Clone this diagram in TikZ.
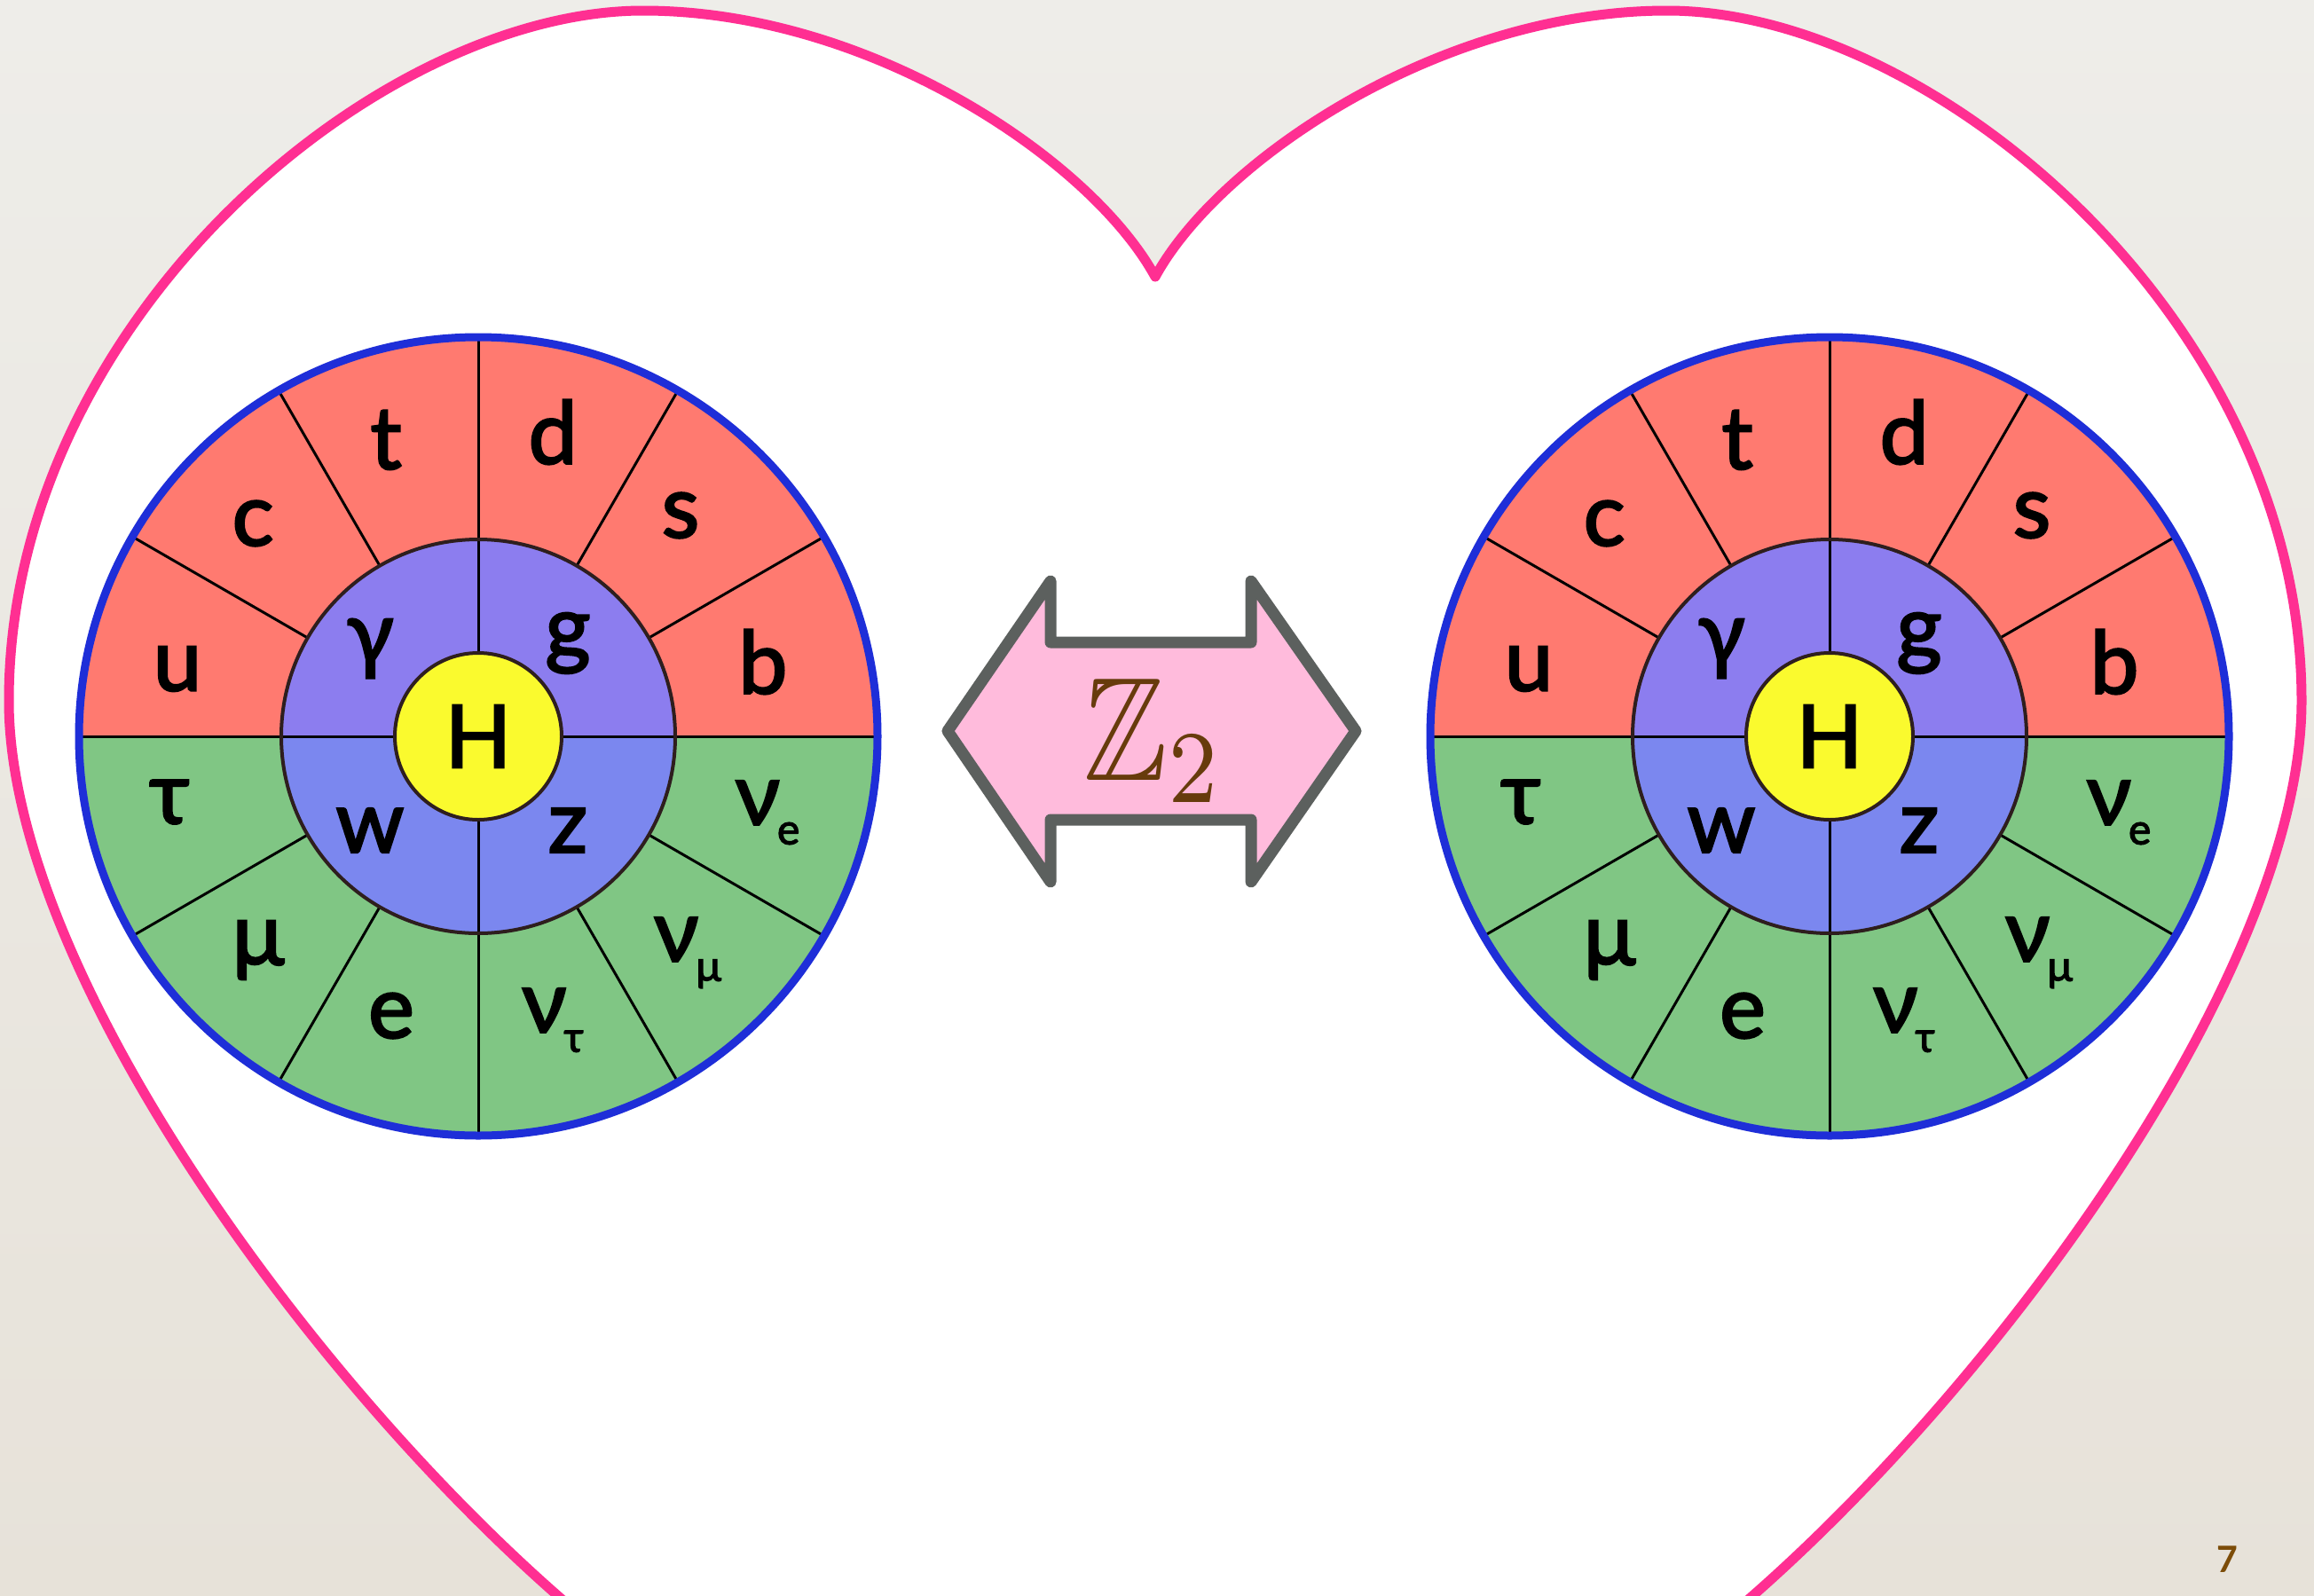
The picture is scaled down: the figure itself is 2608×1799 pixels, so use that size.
\documentclass[tikz,border=0pt]{standalone}
\usepackage[no-math]{fontspec}
\usepackage{amssymb}
\setmainfont{Lato}
\newfontfamily\wheelfam[FakeBold=2.5]{Lato}
\newfontfamily\pagefont{Lato}
\definecolor{bgtop}{HTML}{EEEDE9}
\definecolor{bgbot}{HTML}{E7E2D9}
\definecolor{heartpink}{HTML}{FF2F92}
\definecolor{rd}{HTML}{FF7A70}
\definecolor{grn}{HTML}{80C684}
\definecolor{pur}{HTML}{8C7DEF}
\definecolor{blutwo}{HTML}{7B87EF}
\definecolor{yel}{HTML}{FAFA2E}
\definecolor{outerblue}{HTML}{1E2ED8}
\definecolor{arrgray}{HTML}{5C605E}
\definecolor{arrpink}{HTML}{FFBBDC}
\definecolor{zbrown}{HTML}{673B0C}
\definecolor{pgbrown}{HTML}{7C4C08}
\definecolor{ringdark}{HTML}{2E1E1E}
\newcommand\wheelfont{\wheelfam\fontsize{98}{104}\selectfont}
\newcommand\nusub[1]{ν\kern-3pt\raisebox{-22pt}{\wheelfam\fontsize{48}{50}\selectfont #1}}
\begin{document}
\begin{tikzpicture}[x=1pt,y=-1pt,
  lbl/.style={font=\wheelfont, inner sep=0pt, text=black},
  spoke/.style={draw=black, line width=3pt},
  ringline/.style={draw=ringdark, line width=4pt},
  outerring/.style={draw=outerblue, line width=9pt},
  hcirc/.style={circle, draw=ringdark, line width=4pt, fill=yel, minimum size=188pt, inner sep=0pt, font=\wheelfont},
  heartline/.style={draw=heartpink, line width=11pt, line join=round, fill=white},
  arrline/.style={draw=arrgray, line width=13pt, line join=round, fill=arrpink},
  zlabel/.style={text=zbrown, inner sep=0pt},
  pagenum/.style={text=pgbrown, font=\pagefont\bfseries\fontsize{41}{44}\selectfont, inner sep=0pt}]
\useasboundingbox (0,0) rectangle (2608,1799);
\clip (0,0) rectangle (2608,1799);
\shade[top color=bgtop, bottom color=bgbot] (0,0) rectangle (2608,1799);
% heart
\draw[heartline] (1302,312) .. controls (1230,180) and (980,12) .. (725,12)
  .. controls (425,12) and (10,362) .. (10,790)
  .. controls (10,1090) and (344,1549) .. (629,1799)
  -- (1302,2390) -- (1975,1799)
  .. controls (2260,1549) and (2594,1090) .. (2594,790)
  .. controls (2594,362) and (2179,12) .. (1879,12)
  .. controls (1624,12) and (1374,180) .. (1302,312) -- cycle;
% wheels
\foreach \cx/\pp in {539/L,2062/R}{
  \coordinate (\pp-ctr) at (\cx,830);
  \fill[grn] (\pp-ctr) circle[radius=452];
  \fill[rd] (\pp-ctr) ++(452,0) arc[start angle=0,end angle=-180,radius=452] -- cycle;
  \fill[blutwo] (\pp-ctr) circle[radius=222];
  \fill[pur] (\pp-ctr) ++(222,0) arc[start angle=0,end angle=-180,radius=222] -- cycle;
  \foreach \a in {30,60,120,150,210,240,300,330}
    \draw[spoke] (\pp-ctr) ++(\a:222) -- ++(\a:230);
  \draw[spoke] (\pp-ctr) ++(-452,0) -- ++(904,0);
  \draw[spoke] (\pp-ctr) ++(0,-452) -- ++(0,904);
  \draw[ringline] (\pp-ctr) circle[radius=222];
  \node[hcirc] (\pp-H) at (\pp-ctr) {H};
  \draw[outerring] (\pp-ctr) circle[radius=450];
  \foreach \dx/\dy/\t/\n in {-104/-334/t/t, 84/-343/d/d, -254/-240/c/c, 228/-249/s/s,
      -339/-76/u/u, 321/-84/b/b, -348/74/τ/tau, -248/241/μ/mu, -98/315/e/e,
      -122/-99/γ/gamma, 101/-105/g/g, -122/106/w/w, 101/106/z/z}
    \node[lbl] (\pp-\n) at ([shift={(\dx,\dy)}]\pp-ctr) {\t};
  \foreach \dx/\dy/\s/\n in {326/86/e/nue, 236/244/μ/numu, 84/320/τ/nutau}
    \node[lbl] (\pp-\n) at ([shift={(\dx,\dy)}]\pp-ctr) {\nusub{\s}};
}
% double arrow
\draw[arrline] (1068,824) -- (1184,655) -- (1184,724) -- (1410,724) -- (1410,655)
  -- (1528,824) -- (1410,994) -- (1410,924) -- (1184,924) -- (1184,994) -- cycle;
\node[zlabel] (Z) at (1301,835) {\scalebox{14.2}[16.6]{$\mathbb{Z}_2$}};
\node[pagenum] (pg) at (2510,1758) {7};
\end{tikzpicture}
\end{document}
